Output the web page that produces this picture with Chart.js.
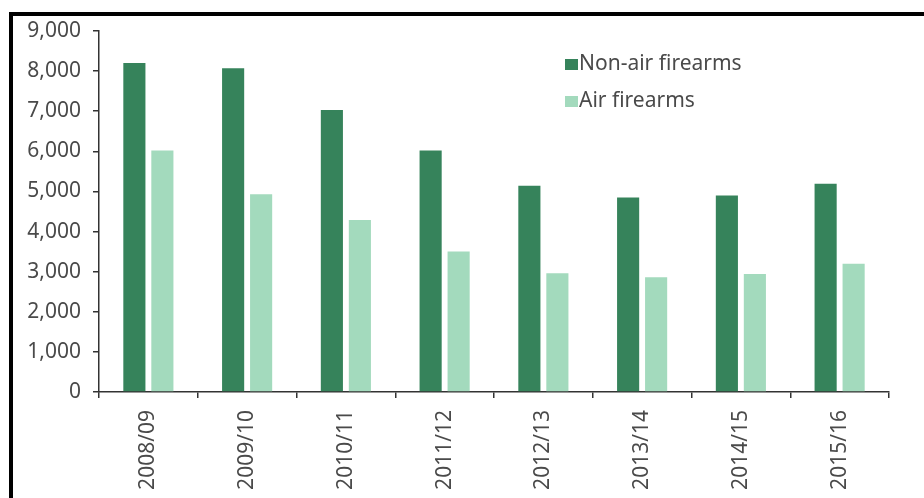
<!DOCTYPE html>
<html>
<head>
<meta charset="utf-8">
<script src="https://cdn.jsdelivr.net/npm/chart.js@4"></script>
<style>
  html, body { margin: 0; padding: 0; background: #fff; }
  #wrap { position: relative; width: 924px; height: 498px; overflow: hidden; }
  #frame { position: absolute; left: 9px; top: 12px; right: -10px; bottom: -10px;
           border-left: 4px solid #000; border-top: 4px solid #000; }
  #chart { position: absolute; left: 0; top: 0; }
</style>
</head>
<body>
<div id="wrap">
  <canvas id="chart" width="924" height="498"></canvas>
  <div id="frame"></div>
</div>
<script>
// firearm offences by year
const years = ['2008/09', '2009/10', '2010/11', '2011/12', '2012/13', '2013/14', '2014/15', '2015/16'];
const nonAir = [8200, 8070, 7030, 6020, 5140, 4850, 4900, 5190];
const air = [6020, 4930, 4290, 3500, 2960, 2860, 2940, 3200];
const yTicks = [0, 1000, 2000, 3000, 4000, 5000, 6000, 7000, 8000, 9000];

const dark = '#36835b';
const light = '#a3dabd';
const textColor = '#4a4a4a';
const axisColor = '#333';
const font = { family: "'Noto Sans', sans-serif", size: 21 };

// legend drawn as a column in the top-right of the plot
const legendBox = {
  id: 'legendBox',
  afterDraw(chart) {
    const ctx = chart.ctx;
    ctx.save();
    ctx.font = font.size + 'px ' + font.family;
    ctx.textBaseline = 'middle';
    ctx.textAlign = 'left';
    chart.data.datasets.forEach(function (ds, i) {
      const y = 64 + i * 37;
      ctx.fillStyle = ds.backgroundColor;
      ctx.fillRect(565, y - 5, 13, 11);
      ctx.fillStyle = textColor;
      ctx.fillText(ds.label, 579, y);
    });
    ctx.restore();
  }
};

new Chart(document.getElementById('chart'), {
  type: 'bar',
  data: {
    labels: years,
    datasets: [
      { label: 'Non-air firearms', data: nonAir, backgroundColor: dark,
        categoryPercentage: 0.567, barPercentage: 0.79 },
      { label: 'Air firearms', data: air, backgroundColor: light,
        categoryPercentage: 0.567, barPercentage: 0.79 }
    ]
  },
  options: {
    responsive: false,
    animation: false,
    layout: { padding: { left: 0, right: 35, top: 31, bottom: 0 } },
    plugins: {
      legend: { display: false },
      tooltip: { enabled: false }
    },
    scales: {
      x: {
        grid: { display: true, drawOnChartArea: false, drawTicks: true,
                tickLength: 6, color: axisColor, lineWidth: 1.5 },
        border: { color: axisColor, width: 1.5 },
        ticks: { color: textColor, font: font, minRotation: 90, maxRotation: 90,
                 padding: 12, autoSkip: false },
        afterFit(scale) { scale.height = 106; }
      },
      y: {
        min: 0,
        max: 9000,
        afterBuildTicks(scale) { scale.ticks = yTicks.map(v => ({ value: v })); },
        grid: { display: true, drawOnChartArea: false, drawTicks: true,
                tickLength: 6, color: axisColor, lineWidth: 1.5 },
        border: { color: axisColor, width: 1.5 },
        ticks: { color: textColor, font: font, padding: 12,
                 callback: v => v.toLocaleString('en-US') },
        afterFit(scale) { scale.width = 99; }
      }
    }
  },
  plugins: [legendBox]
});
</script>
</body>
</html>
